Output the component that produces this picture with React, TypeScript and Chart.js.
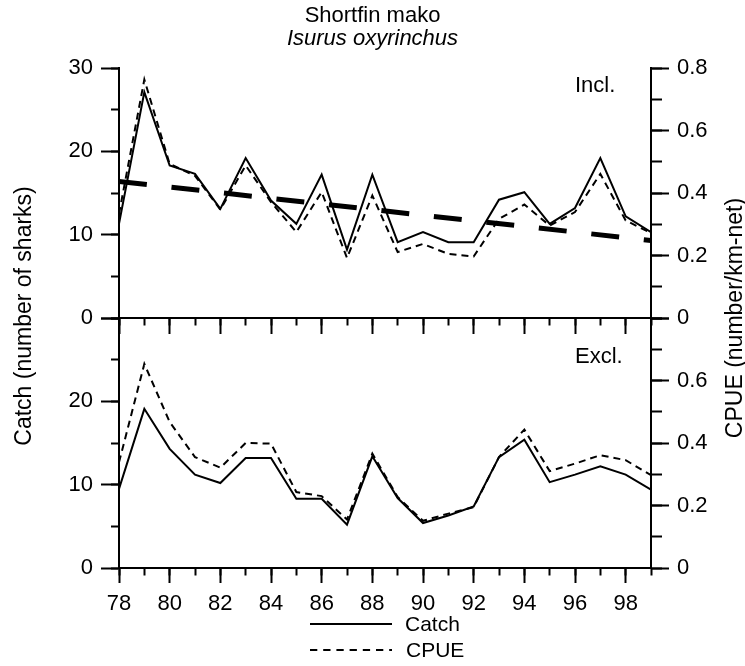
import React, { useEffect, useRef } from 'react';
import { Chart, registerables } from 'chart.js';

Chart.register(...registerables);

// ---------- data ----------
const years = [78, 79, 80, 81, 82, 83, 84, 85, 86, 87, 88, 89, 90, 91, 92, 93, 94, 95, 96, 97, 98, 99];
// Top panel ("Incl.")
const catchIncl = [11.3, 27.1, 18.3, 17.3, 13.1, 19.2, 14.1, 11.3, 17.2, 8.2, 17.2, 9.1, 10.3, 9.1, 9.1, 14.2, 15.1, 11.3, 13.2, 19.2, 12.2, 10.3];
const cpueIncl = [0.333, 0.763, 0.493, 0.455, 0.347, 0.488, 0.371, 0.275, 0.403, 0.192, 0.392, 0.211, 0.237, 0.205, 0.197, 0.317, 0.363, 0.296, 0.339, 0.461, 0.312, 0.272];
const trendYears = [78, 99];
const trendIncl = [0.437, 0.248];
// Bottom panel ("Excl.")
const catchExcl = [9.5, 19.1, 14.3, 11.2, 10.2, 13.2, 13.2, 8.3, 8.3, 5.2, 13.4, 8.4, 5.4, 6.3, 7.4, 13.3, 15.4, 10.3, 11.2, 12.2, 11.2, 9.4];
const cpueExcl = [0.338, 0.653, 0.467, 0.355, 0.321, 0.4, 0.398, 0.243, 0.23, 0.155, 0.366, 0.227, 0.151, 0.174, 0.195, 0.355, 0.443, 0.31, 0.334, 0.361, 0.345, 0.297];

const catchRange = [0, 30];
const cpueRange = [0, 0.8];
const titleText = 'Shortfin mako';
const subtitleText = 'Isurus oxyrinchus';
const leftTitle = 'Catch (number of sharks)';
const rightTitle = 'CPUE (number/km-net)';
const panelLabels = ['Incl.', 'Excl.'];
const legendLabels = ['Catch', 'CPUE'];

// ---------- styling ----------
const W = 745;
const H = 666;
const FONT = "'Liberation Sans', Arial, Helvetica, sans-serif";
const BLACK = '#000';
const CLEAR = 'rgba(0,0,0,0)';
const DASH = [7, 5];

Chart.defaults.font.family = FONT;
Chart.defaults.color = BLACK;

const pts = (xs: number[], ys: number[]) => xs.map((x, i) => ({ x, y: ys[i] }));

const lineDs = (label: string, xs: number[], ys: number[], yAxisID: string, dash: number[], width: number) => ({
  label,
  data: pts(xs, ys),
  xAxisID: 'x',
  yAxisID,
  borderColor: BLACK,
  backgroundColor: BLACK,
  borderWidth: width,
  borderDash: dash,
  borderCapStyle: 'butt',
  borderJoinStyle: 'miter',
  pointRadius: 0,
  pointHoverRadius: 0,
  fill: false,
  tension: 0,
});

const fmtCatch = (hideTop: boolean) => (v: number) => (hideTop && v === catchRange[1] ? '' : String(v));
const fmtCpue = (hideTop: boolean) => (v: number) =>
  hideTop && Math.abs(v - cpueRange[1]) < 1e-6 ? '' : v === 0 ? '0' : Number(v).toFixed(1);

const majorY = (position: string, stack: string, weight: number, range: number[], step: number, width: number, fmt: any) => ({
  type: 'linear',
  axis: 'y',
  display: true,
  position,
  stack,
  stackWeight: 1,
  weight,
  min: range[0],
  max: range[1],
  ticks: { stepSize: step, padding: 8, autoSkip: false, font: { size: 22 }, color: BLACK, callback: fmt },
  grid: { drawOnChartArea: false, drawTicks: true, tickLength: 18, tickWidth: 2, tickColor: BLACK },
  border: { display: true, color: BLACK, width: 2 },
  afterFit: (s: any) => {
    s.width = width;
  },
});

const minorY = (position: string, stack: string, weight: number, range: number[], step: number, len: number) => ({
  type: 'linear',
  axis: 'y',
  display: true,
  position,
  stack,
  stackWeight: 1,
  weight,
  min: range[0],
  max: range[1],
  ticks: { display: false, stepSize: step },
  grid: { drawOnChartArea: false, drawTicks: true, tickLength: len, tickWidth: 2, tickColor: BLACK },
  border: { display: false },
  afterFit: (s: any) => {
    s.width = 0;
  },
});

const xBase = (position: any, weight: number) => ({
  type: 'linear',
  axis: 'x',
  display: true,
  position,
  weight,
  min: years[0],
  max: years[years.length - 1],
});

const evenTick = (c: any) => (c.tick && Math.round(c.tick.value) % 2 === 0 ? BLACK : CLEAR);

const config: any = {
  type: 'line',
  data: {
    datasets: [
      lineDs('Catch Incl.', years, catchIncl, 'yT', [], 2),
      lineDs('CPUE Incl.', years, cpueIncl, 'yRT', DASH, 2),
      lineDs('Trend Incl.', trendYears, trendIncl, 'yRT', [28, 24.8], 5),
      lineDs('Catch Excl.', years, catchExcl, 'yB', [], 2),
      lineDs('CPUE Excl.', years, cpueExcl, 'yRB', DASH, 2),
    ],
  },
  options: {
    responsive: false,
    maintainAspectRatio: false,
    animation: false,
    events: [],
    layout: { padding: { left: 0, right: 0, top: 0, bottom: 0 } },
    plugins: {
      legend: { display: false },
      tooltip: { enabled: false },
      title: {
        display: true,
        text: titleText,
        color: BLACK,
        font: { size: 22, weight: 'normal', lineHeight: 1 },
        padding: { top: 4.6, bottom: 0 },
      },
      subtitle: {
        display: true,
        text: subtitleText,
        color: BLACK,
        font: { size: 22, style: 'italic', weight: 'normal', lineHeight: 1 },
        padding: { top: 1.4, bottom: 18 },
      },
    },
    scales: {
      x: {
        ...xBase('bottom', 2),
        ticks: {
          stepSize: 1,
          autoSkip: false,
          maxRotation: 0,
          minRotation: 0,
          padding: 8,
          font: { size: 22 },
          color: BLACK,
          callback: (v: number) => (Math.round(v) % 2 === 0 ? String(v) : ''),
        },
        grid: { drawOnChartArea: false, tickLength: 15, tickWidth: 2, tickColor: evenTick },
        border: { display: true, color: BLACK, width: 2 },
        afterFit: (s: any) => {
          s.height = 98;
        },
      },
      xm: {
        ...xBase('bottom', 1),
        ticks: { display: false, stepSize: 1 },
        grid: { drawOnChartArea: false, tickLength: 7.5, tickWidth: 2, tickColor: BLACK },
        border: { display: false },
        afterFit: (s: any) => {
          s.height = 0;
        },
      },
      xMid: {
        ...xBase({ yT: 0 }, 0),
        ticks: { display: false, stepSize: 1 },
        grid: { drawOnChartArea: false, tickLength: 15, tickWidth: 2, tickColor: evenTick },
        border: { display: true, color: BLACK, width: 2 },
      },
      xMidm: {
        ...xBase({ yT: 0 }, 0),
        ticks: { display: false, stepSize: 1 },
        grid: { drawOnChartArea: false, tickLength: 7.5, tickWidth: 2, tickColor: BLACK },
        border: { display: false },
      },
      // left side (higher weight = further out / placed first = top of stack)
      yT: majorY('left', 'L', 4, catchRange, 10, 119, fmtCatch(false)),
      yB: majorY('left', 'L', 3, catchRange, 10, 119, fmtCatch(true)),
      yTm: minorY('left', 'Lm', 2, catchRange, 5, 8),
      yBm: minorY('left', 'Lm', 1, catchRange, 5, 8),
      // right side (lower weight = nearer / placed first = top of stack)
      yRTm: minorY('right', 'Rm', 1, cpueRange, 0.1, 11),
      yRBm: minorY('right', 'Rm', 2, cpueRange, 0.1, 11),
      yRT: majorY('right', 'R', 3, cpueRange, 0.2, 94, fmtCpue(false)),
      yRB: majorY('right', 'R', 4, cpueRange, 0.2, 94, fmtCpue(true)),
    },
  },
};

export default function App() {
  const ref = useRef<HTMLCanvasElement>(null);
  useEffect(() => {
    const canvas = ref.current;
    if (!canvas) return;
    const chart = new Chart(canvas, config);
    return () => chart.destroy();
  }, []);
  return (
    <div style={{ position: 'fixed', left: 0, top: 0, width: W, height: H, background: '#fff', overflow: 'hidden' }}>
      <canvas ref={ref} width={W} height={H} style={{ position: 'absolute', left: 0, top: 0, width: W, height: H }} />
      <svg width={W} height={H} style={{ position: 'absolute', left: 0, top: 0, pointerEvents: 'none' }} fontFamily={FONT} fill={BLACK}>
        <text transform="translate(31,316) rotate(-90)" textAnchor="middle" fontSize={23}>
          {leftTitle}
        </text>
        <text transform="translate(742,318) rotate(-90)" textAnchor="middle" fontSize={23}>
          {rightTitle}
        </text>
        <text x={575} y={92} fontSize={22}>
          {panelLabels[0]}
        </text>
        <text x={575} y={363} fontSize={22}>
          {panelLabels[1]}
        </text>
        <line x1={310} y1={624} x2={392} y2={624} stroke={BLACK} strokeWidth={2} />
        <text x={405} y={631} fontSize={21}>
          {legendLabels[0]}
        </text>
        <line x1={310} y1={650} x2={392} y2={650} stroke={BLACK} strokeWidth={2} strokeDasharray="7.3 5.9" />
        <text x={406} y={657} fontSize={21}>
          {legendLabels[1]}
        </text>
      </svg>
    </div>
  );
}
